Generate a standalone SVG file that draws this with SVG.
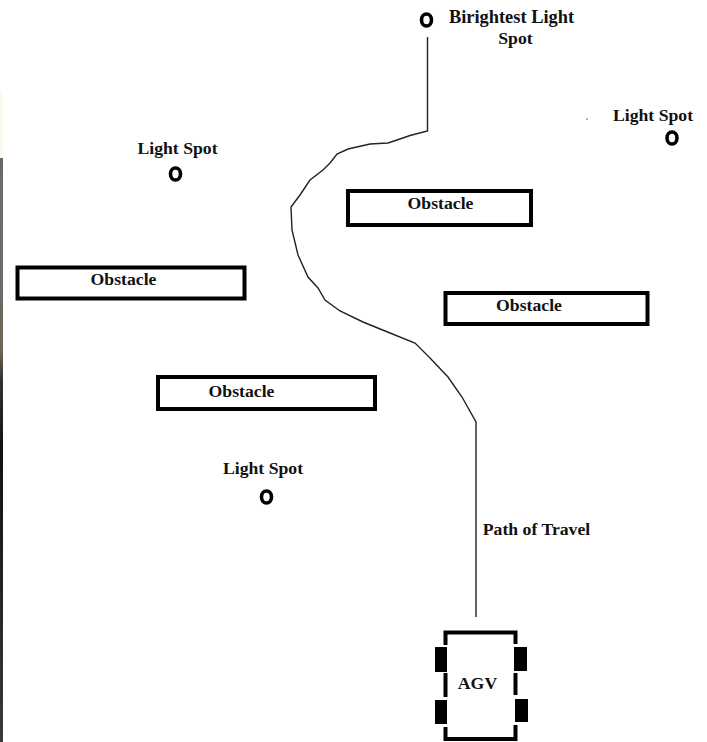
<svg xmlns="http://www.w3.org/2000/svg" width="707" height="742" viewBox="0 0 707 742">
<defs><linearGradient id="edge" x1="0" y1="0" x2="0" y2="1"><stop offset="0" stop-color="#666a70"/><stop offset="0.2" stop-color="#6b6c6c"/><stop offset="0.33" stop-color="#6f6552"/><stop offset="0.38" stop-color="#333"/><stop offset="0.5" stop-color="#111"/><stop offset="1" stop-color="#3a3a3a"/></linearGradient></defs>
<style>
.box{fill:#fff;stroke:#000;stroke-width:4}
.spot{fill:none;stroke:#000;stroke-width:3.6}
.wheel{fill:#000}
.body{fill:none;stroke:#000;stroke-width:4}
.path{fill:none;stroke:#222;stroke-width:1.4}
text{font-family:"Liberation Serif","Times New Roman",serif;font-weight:bold;font-size:17.7px;fill:#111;text-anchor:middle}
.title{font-size:18.4px}
</style>
<rect width="707" height="742" fill="#fff"/>
<rect x="0" y="158" width="3" height="584" fill="url(#edge)"/>
<rect x="0" y="90" width="3" height="68" fill="#fbfaf0"/>
<g id="connectors">
<path class="path" d="M427.500 37V131L410 135.500 397 140 388 143 370 144 348 149 337 154 330 163 323 170 310 180 300 195 291 207 292 230 298 255 308 277 318 288 325 300 340 311 363 322 390 333 415 343 430 358 448 377 462 397 476 422V617"/>
</g>
<g id="spot-brightest"><ellipse class="spot" cx="426.500" cy="20" rx="5" ry="6"/><text class="title" x="511.500" y="23">Birightest Light</text><text x="515.500" y="44">Spot</text></g>
<g id="spot-right"><ellipse class="spot" cx="672" cy="138" rx="5" ry="6"/><text x="653" y="121">Light Spot</text><circle cx="587" cy="119" r="0.700" fill="#333"/></g>
<g id="spot-left"><ellipse class="spot" cx="175.500" cy="174" rx="5" ry="6"/><text x="177.500" y="154">Light Spot</text></g>
<g id="spot-lower"><ellipse class="spot" cx="266.500" cy="497" rx="5" ry="6"/><text x="263" y="474">Light Spot</text></g>
<g id="obstacle-1"><rect class="box" x="348" y="191" width="183" height="34"/><text x="440.500" y="209">Obstacle</text></g>
<g id="obstacle-2"><rect class="box" x="17.500" y="267.500" width="227" height="31"/><text x="123.500" y="285">Obstacle</text></g>
<g id="obstacle-3"><rect class="box" x="445.500" y="293" width="202" height="31"/><text x="529" y="311">Obstacle</text></g>
<g id="obstacle-4"><rect class="box" x="158" y="377" width="217" height="32"/><text x="241.500" y="397">Obstacle</text></g>
<g id="agv">
<path class="body" d="M445.500 645V632.500H515.500V644M445.500 673V697M445.500 727V739H515.500V725M515.500 673V695"/>
<rect class="wheel" x="435" y="647" width="12" height="25"/>
<rect class="wheel" x="435" y="700" width="12" height="24"/>
<rect class="wheel" x="514" y="647" width="13" height="24"/>
<rect class="wheel" x="515" y="699" width="13" height="23"/>
<text x="477.500" y="689">AGV</text>
</g>
<text x="536.500" y="535">Path of Travel</text>
</svg>
